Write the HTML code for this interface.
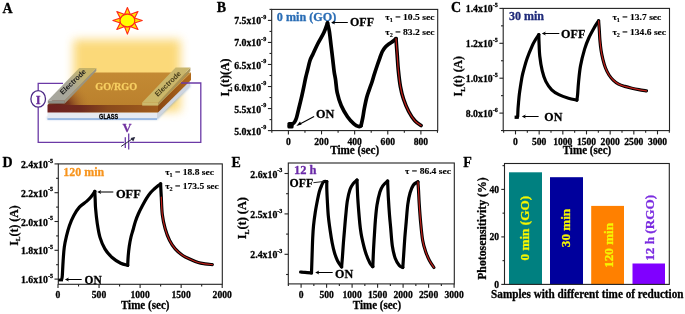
<!DOCTYPE html>
<html><head><meta charset="utf-8"><style>
html,body{margin:0;padding:0;background:#fff;}
body{width:685px;height:314px;overflow:hidden;}
svg{display:block;will-change:transform;}
text{stroke-width:0.28px;stroke-linejoin:round;}
</style></head><body>
<svg width="685" height="314" viewBox="0 0 685 314">
<defs>
<filter id="glow" x="-30%" y="-30%" width="160%" height="160%"><feGaussianBlur stdDeviation="5"/></filter>
<filter id="soft" x="-10%" y="-50%" width="120%" height="200%"><feGaussianBlur stdDeviation="0.8"/></filter>
<linearGradient id="filmFront" x1="0" y1="0" x2="1" y2="0">
 <stop offset="0" stop-color="#6e2020"/><stop offset="0.3" stop-color="#6f2a1e"/><stop offset="0.55" stop-color="#8a4a1c"/><stop offset="1" stop-color="#a05c1c"/>
</linearGradient>
<linearGradient id="filmSide" x1="0" y1="0" x2="1" y2="0">
 <stop offset="0" stop-color="#8a4612"/><stop offset="1" stop-color="#b06a1c"/>
</linearGradient>
<linearGradient id="filmTop" x1="0" y1="0" x2="0" y2="1">
 <stop offset="0" stop-color="#c38a34"/><stop offset="1" stop-color="#bb812d"/>
</linearGradient>
<radialGradient id="filmShade" gradientUnits="userSpaceOnUse" cx="58" cy="108" r="34" gradientTransform="translate(58,108) scale(1,0.9) rotate(-30) translate(-58,-108)">
 <stop offset="0" stop-color="#5a1a18" stop-opacity="1"/><stop offset="0.35" stop-color="#6e2a1a" stop-opacity="0.85"/><stop offset="0.7" stop-color="#9a5a26" stop-opacity="0.35"/><stop offset="1" stop-color="#bf8530" stop-opacity="0"/>
</radialGradient>
<linearGradient id="filmTop2" x1="0" y1="0" x2="0" y2="1">
 <stop offset="0" stop-color="#c88c30" stop-opacity="0.6"/><stop offset="1" stop-color="#c88c30" stop-opacity="0"/>
</linearGradient>
<linearGradient id="elL" gradientUnits="userSpaceOnUse" x1="56" y1="100" x2="88" y2="68">
 <stop offset="0" stop-color="#a6a69e"/><stop offset="0.45" stop-color="#a9a798"/><stop offset="0.8" stop-color="#c2b372"/><stop offset="1" stop-color="#c8b466"/>
</linearGradient>
<linearGradient id="elR" x1="0" y1="1" x2="1" y2="0">
 <stop offset="0" stop-color="#cbb767"/><stop offset="1" stop-color="#c9b66e"/>
</linearGradient>
</defs>
<rect width="685" height="314" fill="#fff"/>
<text transform="translate(2.6,12.6) scale(1,1.1)" x="0" y="0" font-family='"Liberation Serif", serif' font-size="14" font-weight="bold" fill="#000" stroke="#000">A</text><rect x="73.5" y="39.5" width="107" height="72" fill="#fbd66e" opacity="0.92" filter="url(#glow)"/><path d="M47.5,119.3 L157,119.3 L190,86.5 L190,84 L157,117 L47.5,117 Z" fill="#7fa6d8" opacity="0.9" filter="url(#soft)"/><polygon points="47.5,112.6 157,112.6 157,118.6 47.5,118.6" fill="#e6eaf2"/><rect x="47.5" y="118.3" width="109.5" height="1.5" fill="#8cb0e0"/><polygon points="157,112.6 190,80 190,86 157,118.6" fill="#cfd5df"/><text x="108.6" y="118.6" font-family='"Liberation Sans", sans-serif' font-size="6.6" font-weight="bold" fill="#000" stroke="#000" text-anchor="middle" textLength="19" lengthAdjust="spacingAndGlyphs" >GLASS</text><polygon points="47.5,105 158,105 158,112.4 47.5,112.4" fill="url(#filmFront)"/><polygon points="158,105 191,72.5 191,80 158,112.4" fill="url(#filmSide)"/><polygon points="47.5,105 80,72.5 191,72.5 158,105" fill="url(#filmTop)"/><polygon points="47.5,105 80,72.5 191,72.5 158,105" fill="url(#filmShade)"/><text x="116.2" y="90.3" font-family='"Liberation Serif", serif' font-size="11.2" font-weight="bold" fill="#f7cf62" stroke="#f7cf62" text-anchor="middle" textLength="42" lengthAdjust="spacingAndGlyphs" >GO/RGO</text><polygon points="47.8,100.4 64.8,100.4 64.8,103.6 47.8,103.6" fill="#8f8f86"/><polygon points="64.8,100.4 96.3,67.9 96.3,71.1 64.8,103.6" fill="#9a9480"/><polygon points="47.8,100.4 79.3,67.9 96.3,67.9 64.8,100.4" fill="url(#elL)"/><polygon points="142.2,102.4 158.2,102.4 158.2,105.6 142.2,105.6" fill="#cdb96c"/><polygon points="158.2,102.4 190.4,67.6 190.4,71.0 158.2,105.6" fill="#a89458"/><polygon points="142.2,102.4 175.6,67.6 190.4,67.6 158.2,102.4" fill="url(#elR)"/><text transform="translate(74.6,83.6) rotate(-44)" font-family='"Liberation Sans", sans-serif' font-size="7.4" font-weight="bold" fill="#1e1e1e" text-anchor="middle" textLength="33" lengthAdjust="spacingAndGlyphs">Electrode</text><text transform="translate(169.6,85.6) rotate(-44)" font-family='"Liberation Sans", sans-serif' font-size="7.4" font-weight="bold" fill="#4a3f1c" text-anchor="middle" textLength="33" lengthAdjust="spacingAndGlyphs">Electrode</text><polyline points="63,83.3 38.2,83.3 38.2,142.3 200.8,142.3 200.8,83 181,83" fill="none" stroke="#6b3aa6" stroke-width="1.3"/><ellipse cx="38.2" cy="98.9" rx="7.3" ry="8.3" fill="#fff" stroke="#4d2a86" stroke-width="1.3"/><text x="38.3" y="103.6" font-family='"Liberation Serif", serif' font-size="12.5" font-weight="bold" fill="#6a2a9c" stroke="#6a2a9c" text-anchor="middle" >I</text><rect x="124" y="136" width="6" height="13" fill="#fff"/><line x1="125.3" y1="137.2" x2="125.3" y2="148.0" stroke="#6b3aa6" stroke-width="1.3"/><line x1="128.7" y1="133.4" x2="128.7" y2="149.5" stroke="#6b3aa6" stroke-width="1.3"/><line x1="121.2" y1="146.4" x2="133.6" y2="138.0" stroke="#2a2a40" stroke-width="1.0"/><path d="M135.2,137 L130.6,138.0 L133.2,141.6 Z" fill="#2a2a40"/><text x="127.0" y="131.8" font-family='"Liberation Serif", serif' font-size="12.5" font-weight="bold" fill="#7030a0" stroke="#7030a0" text-anchor="middle" >V</text><polygon points="127.40,7.50 124.55,14.20 130.25,14.20" fill="#ffe600" stroke="#ff2a1a" stroke-width="1.1" stroke-linejoin="round"/><polygon points="138.00,11.50 130.68,14.36 134.53,18.12" fill="#ffe600" stroke="#ff2a1a" stroke-width="1.1" stroke-linejoin="round"/><polygon points="142.30,20.50 134.46,17.95 134.46,23.05" fill="#ffe600" stroke="#ff2a1a" stroke-width="1.1" stroke-linejoin="round"/><polygon points="138.00,29.50 134.53,22.88 130.68,26.64" fill="#ffe600" stroke="#ff2a1a" stroke-width="1.1" stroke-linejoin="round"/><polygon points="127.40,34.10 130.25,26.80 124.55,26.80" fill="#ffe600" stroke="#ff2a1a" stroke-width="1.1" stroke-linejoin="round"/><polygon points="116.80,29.50 124.12,26.64 120.27,22.88" fill="#ffe600" stroke="#ff2a1a" stroke-width="1.1" stroke-linejoin="round"/><polygon points="112.90,20.50 120.34,23.05 120.34,17.95" fill="#ffe600" stroke="#ff2a1a" stroke-width="1.1" stroke-linejoin="round"/><polygon points="116.80,11.50 120.27,18.12 124.12,14.36" fill="#ffe600" stroke="#ff2a1a" stroke-width="1.1" stroke-linejoin="round"/><ellipse cx="127.4" cy="20.5" rx="7.4" ry="6.4" fill="#ffff00" stroke="#ff2a1a" stroke-width="1.1"/><text transform="translate(216.8,11.7) scale(1,1.1)" x="0" y="0" font-family='"Liberation Serif", serif' font-size="14" font-weight="bold" fill="#000" stroke="#000">B</text><rect x="271.7" y="9.4" width="166.0" height="121.19999999999999" fill="none" stroke="#222" stroke-width="1.1"/><line x1="288.4" y1="130.6" x2="288.4" y2="134.4" stroke="#222" stroke-width="1.1"/><line x1="321.525" y1="130.6" x2="321.525" y2="134.4" stroke="#222" stroke-width="1.1"/><line x1="354.65" y1="130.6" x2="354.65" y2="134.4" stroke="#222" stroke-width="1.1"/><line x1="387.775" y1="130.6" x2="387.775" y2="134.4" stroke="#222" stroke-width="1.1"/><line x1="420.9" y1="130.6" x2="420.9" y2="134.4" stroke="#222" stroke-width="1.1"/><line x1="271.8375" y1="130.6" x2="271.8375" y2="132.79999999999998" stroke="#222" stroke-width="1.1"/><line x1="304.9625" y1="130.6" x2="304.9625" y2="132.79999999999998" stroke="#222" stroke-width="1.1"/><line x1="338.0875" y1="130.6" x2="338.0875" y2="132.79999999999998" stroke="#222" stroke-width="1.1"/><line x1="371.2125" y1="130.6" x2="371.2125" y2="132.79999999999998" stroke="#222" stroke-width="1.1"/><line x1="404.3375" y1="130.6" x2="404.3375" y2="132.79999999999998" stroke="#222" stroke-width="1.1"/><line x1="437.4625" y1="130.6" x2="437.4625" y2="132.79999999999998" stroke="#222" stroke-width="1.1"/><line x1="267.9" y1="130.6" x2="271.7" y2="130.6" stroke="#222" stroke-width="1.1"/><line x1="267.9" y1="108.56" x2="271.7" y2="108.56" stroke="#222" stroke-width="1.1"/><line x1="267.9" y1="86.52" x2="271.7" y2="86.52" stroke="#222" stroke-width="1.1"/><line x1="267.9" y1="64.47999999999999" x2="271.7" y2="64.47999999999999" stroke="#222" stroke-width="1.1"/><line x1="267.9" y1="42.44" x2="271.7" y2="42.44" stroke="#222" stroke-width="1.1"/><line x1="267.9" y1="20.400000000000006" x2="271.7" y2="20.400000000000006" stroke="#222" stroke-width="1.1"/><line x1="269.5" y1="119.58" x2="271.7" y2="119.58" stroke="#222" stroke-width="1.1"/><line x1="269.5" y1="97.53999999999999" x2="271.7" y2="97.53999999999999" stroke="#222" stroke-width="1.1"/><line x1="269.5" y1="75.5" x2="271.7" y2="75.5" stroke="#222" stroke-width="1.1"/><line x1="269.5" y1="53.459999999999994" x2="271.7" y2="53.459999999999994" stroke="#222" stroke-width="1.1"/><line x1="269.5" y1="31.42" x2="271.7" y2="31.42" stroke="#222" stroke-width="1.1"/><line x1="269.5" y1="9.379999999999995" x2="271.7" y2="9.379999999999995" stroke="#222" stroke-width="1.1"/><text x="288.4" y="144.8" font-family='"Liberation Serif", serif' font-size="9.6" font-weight="bold" fill="#000" stroke="#000" text-anchor="middle" >0</text><text x="321.5" y="144.8" font-family='"Liberation Serif", serif' font-size="9.6" font-weight="bold" fill="#000" stroke="#000" text-anchor="middle" >200</text><text x="354.6" y="144.8" font-family='"Liberation Serif", serif' font-size="9.6" font-weight="bold" fill="#000" stroke="#000" text-anchor="middle" >400</text><text x="387.8" y="144.8" font-family='"Liberation Serif", serif' font-size="9.6" font-weight="bold" fill="#000" stroke="#000" text-anchor="middle" >600</text><text x="420.9" y="144.8" font-family='"Liberation Serif", serif' font-size="9.6" font-weight="bold" fill="#000" stroke="#000" text-anchor="middle" >800</text><text x="266.2" y="134.6" font-family='"Liberation Serif", serif' font-size="9.8" font-weight="bold" stroke="#000" text-anchor="end">5.0x10<tspan dy="-5.3" font-size="6.08">-9</tspan></text><text x="266.2" y="112.6" font-family='"Liberation Serif", serif' font-size="9.8" font-weight="bold" stroke="#000" text-anchor="end">5.5x10<tspan dy="-5.3" font-size="6.08">-9</tspan></text><text x="266.2" y="90.5" font-family='"Liberation Serif", serif' font-size="9.8" font-weight="bold" stroke="#000" text-anchor="end">6.0x10<tspan dy="-5.3" font-size="6.08">-9</tspan></text><text x="266.2" y="68.5" font-family='"Liberation Serif", serif' font-size="9.8" font-weight="bold" stroke="#000" text-anchor="end">6.5x10<tspan dy="-5.3" font-size="6.08">-9</tspan></text><text x="266.2" y="46.4" font-family='"Liberation Serif", serif' font-size="9.8" font-weight="bold" stroke="#000" text-anchor="end">7.0x10<tspan dy="-5.3" font-size="6.08">-9</tspan></text><text x="266.2" y="24.4" font-family='"Liberation Serif", serif' font-size="9.8" font-weight="bold" stroke="#000" text-anchor="end">7.5x10<tspan dy="-5.3" font-size="6.08">-9</tspan></text><text x="354.7" y="154.0" font-family='"Liberation Serif", serif' font-size="11.6" font-weight="bold" fill="#000" stroke="#000" text-anchor="middle" textLength="49" lengthAdjust="spacingAndGlyphs" >Time (sec)</text><text transform="translate(229.3,77.4) rotate(-90)" x="0" y="0" font-family='"Liberation Serif", serif' font-size="11.8" font-weight="bold" stroke="#000" text-anchor="middle" textLength="38" lengthAdjust="spacingAndGlyphs">I<tspan font-size="7.1" dy="2.5">L</tspan><tspan dy="-2.5">(t)(A)</tspan></text><text x="276.8" y="20.8" font-family='"Liberation Serif", serif' font-size="12" font-weight="bold" fill="#2a6db5" stroke="#2a6db5" text-anchor="start" textLength="59.5" lengthAdjust="spacingAndGlyphs" >0 min (GO)</text><text x="385.3" y="19.8" font-family='"Liberation Serif", serif' font-size="9.1" font-weight="bold" stroke="#000" style="stroke-width:0.14px" textLength="49.2" lengthAdjust="spacingAndGlyphs">τ<tspan font-size="5.9" dy="2.2">1</tspan><tspan dy="-2.2"> = 10.5 sec</tspan></text><text x="385.3" y="34.5" font-family='"Liberation Serif", serif' font-size="9.1" font-weight="bold" stroke="#000" style="stroke-width:0.14px" textLength="49.2" lengthAdjust="spacingAndGlyphs">τ<tspan font-size="5.9" dy="2.2">2</tspan><tspan dy="-2.2"> = 83.2 sec</tspan></text><path d="M289.50,126.00 C289.87,125.75 290.85,125.17 291.70,124.50 C292.55,123.83 293.80,123.12 294.60,122.00 C295.40,120.88 295.87,119.78 296.50,117.80 C297.13,115.82 297.62,113.28 298.40,110.10 C299.18,106.92 300.25,102.83 301.20,98.70 C302.15,94.57 303.37,88.75 304.10,85.30 C304.83,81.85 305.02,80.55 305.60,78.00 C306.18,75.45 306.87,72.92 307.60,70.00 C308.33,67.08 309.10,63.17 310.00,60.50 C310.90,57.83 311.68,56.83 313.00,54.00 C314.32,51.17 316.08,47.08 317.90,43.50 C319.72,39.92 322.30,35.92 323.90,32.50 C325.50,29.08 326.90,24.58 327.50,23.00" fill="none" stroke="#000" stroke-width="3.7" stroke-linejoin="round" stroke-linecap="round" /><path d="M327.50,23.00 C327.80,24.33 328.72,27.33 329.30,31.00 C329.88,34.67 330.42,40.17 331.00,45.00 C331.58,49.83 332.27,55.50 332.80,60.00 C333.33,64.50 333.73,68.67 334.20,72.00 C334.67,75.33 335.10,76.55 335.60,80.00 C336.10,83.45 336.27,88.45 337.20,92.70 C338.13,96.95 339.48,101.50 341.20,105.50 C342.92,109.50 345.38,113.65 347.50,116.70 C349.62,119.75 352.03,122.17 353.90,123.80 C355.77,125.43 357.52,126.17 358.70,126.50 C359.88,126.83 360.62,125.92 361.00,125.80" fill="none" stroke="#000" stroke-width="3.7" stroke-linejoin="round" stroke-linecap="round" /><path d="M361.00,125.80 C361.28,124.53 362.15,121.05 362.70,118.20 C363.25,115.35 363.63,112.15 364.30,108.70 C364.97,105.25 365.87,100.68 366.70,97.50 C367.53,94.32 368.42,92.18 369.30,89.60 C370.18,87.02 371.15,84.60 372.00,82.00 C372.85,79.40 373.53,76.75 374.40,74.00 C375.27,71.25 376.30,68.15 377.20,65.50 C378.10,62.85 378.97,60.40 379.80,58.10 C380.63,55.80 381.27,53.57 382.20,51.70 C383.13,49.83 384.22,48.22 385.40,46.90 C386.58,45.58 387.98,44.78 389.30,43.80 C390.62,42.82 392.18,41.87 393.30,41.00 C394.42,40.13 395.55,39.00 396.00,38.60" fill="none" stroke="#000" stroke-width="3.7" stroke-linejoin="round" stroke-linecap="round" /><path d="M396.00,38.60 C396.20,41.33 396.82,49.77 397.20,55.00 C397.58,60.23 397.77,64.73 398.30,70.00 C398.83,75.27 399.53,81.77 400.40,86.60 C401.27,91.43 402.12,94.85 403.50,99.00 C404.88,103.15 406.80,107.87 408.70,111.50 C410.60,115.13 412.83,118.47 414.90,120.80 C416.97,123.13 420.07,124.72 421.10,125.50" fill="none" stroke="#000" stroke-width="3.7" stroke-linejoin="round" stroke-linecap="round" /><rect x="287.4" y="122.0" width="6.2" height="6.6" rx="1.6" fill="#000"/><path d="M396.00,38.60 C396.20,41.33 396.82,49.77 397.20,55.00 C397.58,60.23 397.77,64.73 398.30,70.00 C398.83,75.27 399.53,81.77 400.40,86.60 C401.27,91.43 402.12,94.85 403.50,99.00 C404.88,103.15 406.80,107.87 408.70,111.50 C410.60,115.13 412.83,118.47 414.90,120.80 C416.97,123.13 420.07,124.72 421.10,125.50" fill="none" stroke="#c0201a" stroke-width="1.2" stroke-linejoin="round" stroke-linecap="round" /><line x1="333.90000000000003" y1="22.5" x2="347.8" y2="22.5" stroke="#000" stroke-width="1.05"/><path d="M331.1,22.5 L335.1,20.6 L334.1,22.5 L335.1,24.4 Z" fill="#000"/><text x="350.0" y="25.8" font-family='"Liberation Serif", serif' font-size="12" font-weight="bold" fill="#000" stroke="#000" text-anchor="start" textLength="24" lengthAdjust="spacingAndGlyphs" >OFF</text><line x1="299.0" y1="124.4" x2="314.1" y2="116.4" stroke="#000" stroke-width="1.1"/><path d="M296.4,125.9 L300.0,121.6 L301.6,124.6 Z" fill="#000"/><text x="315.9" y="117.6" font-family='"Liberation Serif", serif' font-size="12" font-weight="bold" fill="#000" stroke="#000" text-anchor="start" textLength="18.3" lengthAdjust="spacingAndGlyphs" >ON</text><text transform="translate(451.0,12.3) scale(1,1.1)" x="0" y="0" font-family='"Liberation Serif", serif' font-size="14" font-weight="bold" fill="#000" stroke="#000">C</text><rect x="503.2" y="8.4" width="166.3" height="122.19999999999999" fill="none" stroke="#222" stroke-width="1.1"/><line x1="515.5" y1="130.6" x2="515.5" y2="134.4" stroke="#222" stroke-width="1.1"/><line x1="539.1666666666666" y1="130.6" x2="539.1666666666666" y2="134.4" stroke="#222" stroke-width="1.1"/><line x1="562.8333333333334" y1="130.6" x2="562.8333333333334" y2="134.4" stroke="#222" stroke-width="1.1"/><line x1="586.5" y1="130.6" x2="586.5" y2="134.4" stroke="#222" stroke-width="1.1"/><line x1="610.1666666666666" y1="130.6" x2="610.1666666666666" y2="134.4" stroke="#222" stroke-width="1.1"/><line x1="633.8333333333334" y1="130.6" x2="633.8333333333334" y2="134.4" stroke="#222" stroke-width="1.1"/><line x1="657.5" y1="130.6" x2="657.5" y2="134.4" stroke="#222" stroke-width="1.1"/><line x1="503.6666666666667" y1="130.6" x2="503.6666666666667" y2="132.79999999999998" stroke="#222" stroke-width="1.1"/><line x1="527.3333333333334" y1="130.6" x2="527.3333333333334" y2="132.79999999999998" stroke="#222" stroke-width="1.1"/><line x1="551.0" y1="130.6" x2="551.0" y2="132.79999999999998" stroke="#222" stroke-width="1.1"/><line x1="574.6666666666666" y1="130.6" x2="574.6666666666666" y2="132.79999999999998" stroke="#222" stroke-width="1.1"/><line x1="598.3333333333334" y1="130.6" x2="598.3333333333334" y2="132.79999999999998" stroke="#222" stroke-width="1.1"/><line x1="622.0" y1="130.6" x2="622.0" y2="132.79999999999998" stroke="#222" stroke-width="1.1"/><line x1="645.6666666666666" y1="130.6" x2="645.6666666666666" y2="132.79999999999998" stroke="#222" stroke-width="1.1"/><line x1="669.3333333333333" y1="130.6" x2="669.3333333333333" y2="132.79999999999998" stroke="#222" stroke-width="1.1"/><line x1="499.4" y1="113.1" x2="503.2" y2="113.1" stroke="#222" stroke-width="1.1"/><line x1="499.4" y1="78.20000000000002" x2="503.2" y2="78.20000000000002" stroke="#222" stroke-width="1.1"/><line x1="499.4" y1="43.300000000000026" x2="503.2" y2="43.300000000000026" stroke="#222" stroke-width="1.1"/><line x1="499.4" y1="8.400000000000034" x2="503.2" y2="8.400000000000034" stroke="#222" stroke-width="1.1"/><line x1="501.0" y1="130.55" x2="503.2" y2="130.55" stroke="#222" stroke-width="1.1"/><line x1="501.0" y1="95.65" x2="503.2" y2="95.65" stroke="#222" stroke-width="1.1"/><line x1="501.0" y1="60.74999999999999" x2="503.2" y2="60.74999999999999" stroke="#222" stroke-width="1.1"/><line x1="501.0" y1="25.85000000000001" x2="503.2" y2="25.85000000000001" stroke="#222" stroke-width="1.1"/><text x="515.5" y="144.8" font-family='"Liberation Serif", serif' font-size="9.6" font-weight="bold" fill="#000" stroke="#000" text-anchor="middle" >0</text><text x="539.2" y="144.8" font-family='"Liberation Serif", serif' font-size="9.6" font-weight="bold" fill="#000" stroke="#000" text-anchor="middle" >500</text><text x="562.8" y="144.8" font-family='"Liberation Serif", serif' font-size="9.6" font-weight="bold" fill="#000" stroke="#000" text-anchor="middle" >1000</text><text x="586.5" y="144.8" font-family='"Liberation Serif", serif' font-size="9.6" font-weight="bold" fill="#000" stroke="#000" text-anchor="middle" >1500</text><text x="610.2" y="144.8" font-family='"Liberation Serif", serif' font-size="9.6" font-weight="bold" fill="#000" stroke="#000" text-anchor="middle" >2000</text><text x="633.8" y="144.8" font-family='"Liberation Serif", serif' font-size="9.6" font-weight="bold" fill="#000" stroke="#000" text-anchor="middle" >2500</text><text x="657.5" y="144.8" font-family='"Liberation Serif", serif' font-size="9.6" font-weight="bold" fill="#000" stroke="#000" text-anchor="middle" >3000</text><text x="497.8" y="12.4" font-family='"Liberation Serif", serif' font-size="9.8" font-weight="bold" stroke="#000" text-anchor="end">1.4x10<tspan dy="-5.3" font-size="6.08">-5</tspan></text><text x="497.8" y="47.3" font-family='"Liberation Serif", serif' font-size="9.8" font-weight="bold" stroke="#000" text-anchor="end">1.2x10<tspan dy="-5.3" font-size="6.08">-5</tspan></text><text x="497.8" y="82.2" font-family='"Liberation Serif", serif' font-size="9.8" font-weight="bold" stroke="#000" text-anchor="end">1.0x10<tspan dy="-5.3" font-size="6.08">-5</tspan></text><text x="497.8" y="117.1" font-family='"Liberation Serif", serif' font-size="9.8" font-weight="bold" stroke="#000" text-anchor="end">8.0x10<tspan dy="-5.3" font-size="6.08">-6</tspan></text><text x="587.0" y="154.4" font-family='"Liberation Serif", serif' font-size="11.6" font-weight="bold" fill="#000" stroke="#000" text-anchor="middle" textLength="48.6" lengthAdjust="spacingAndGlyphs" >Time (sec)</text><text transform="translate(462.4,76.2) rotate(-90)" x="0" y="0" font-family='"Liberation Serif", serif' font-size="11.6" font-weight="bold" stroke="#000" text-anchor="middle" textLength="40.5" lengthAdjust="spacingAndGlyphs">I<tspan font-size="7.0" dy="2.5">L</tspan><tspan dy="-2.5">(t) (A)</tspan></text><text x="508.9" y="19.7" font-family='"Liberation Serif", serif' font-size="12" font-weight="bold" fill="#1f2a7a" stroke="#1f2a7a" text-anchor="start" textLength="35.1" lengthAdjust="spacingAndGlyphs" >30 min</text><text x="612.4" y="20.2" font-family='"Liberation Serif", serif' font-size="9.1" font-weight="bold" stroke="#000" style="stroke-width:0.14px" textLength="48.9" lengthAdjust="spacingAndGlyphs">τ<tspan font-size="5.9" dy="2.2">1</tspan><tspan dy="-2.2"> = 13.7 sec</tspan></text><text x="612.4" y="34.5" font-family='"Liberation Serif", serif' font-size="9.1" font-weight="bold" stroke="#000" style="stroke-width:0.14px" textLength="53.7" lengthAdjust="spacingAndGlyphs">τ<tspan font-size="5.9" dy="2.2">2</tspan><tspan dy="-2.2"> = 134.6 sec</tspan></text><path d="M517.70,116.50 C517.75,115.25 517.85,111.47 518.00,109.00 C518.15,106.53 518.38,104.12 518.60,101.70 C518.82,99.28 519.02,96.88 519.30,94.50 C519.58,92.12 519.93,89.82 520.30,87.40 C520.67,84.98 521.07,82.40 521.50,80.00 C521.93,77.60 521.98,76.55 522.90,73.00 C523.82,69.45 525.45,63.23 527.00,58.70 C528.55,54.17 530.80,48.95 532.20,45.80 C533.60,42.65 534.30,41.67 535.40,39.80 C536.50,37.93 538.23,35.47 538.80,34.60" fill="none" stroke="#000" stroke-width="3.2" stroke-linejoin="round" stroke-linecap="round" /><path d="M538.80,34.60 C538.83,35.83 538.83,38.38 539.00,42.00 C539.17,45.62 539.27,51.52 539.80,56.30 C540.33,61.08 541.20,66.52 542.20,70.70 C543.20,74.88 544.22,78.22 545.80,81.40 C547.38,84.58 549.52,87.60 551.70,89.80 C553.88,92.00 556.10,93.20 558.90,94.60 C561.70,96.00 565.50,97.28 568.50,98.20 C571.50,99.12 575.50,99.78 576.90,100.10" fill="none" stroke="#000" stroke-width="3.2" stroke-linejoin="round" stroke-linecap="round" /><path d="M576.90,100.10 C577.02,99.18 577.33,97.52 577.60,94.60 C577.87,91.68 578.02,87.38 578.50,82.60 C578.98,77.82 579.48,71.48 580.50,65.90 C581.52,60.32 583.22,53.75 584.60,49.10 C585.98,44.45 587.17,41.62 588.80,38.00 C590.43,34.38 592.77,30.27 594.40,27.40 C596.03,24.53 597.90,21.90 598.60,20.80" fill="none" stroke="#000" stroke-width="3.2" stroke-linejoin="round" stroke-linecap="round" /><path d="M598.60,20.80 C598.72,22.33 599.08,26.80 599.30,30.00 C599.52,33.20 599.60,36.58 599.90,40.00 C600.20,43.42 600.60,47.28 601.10,50.50 C601.60,53.72 602.17,56.38 602.90,59.30 C603.63,62.22 604.48,65.38 605.50,68.00 C606.52,70.62 607.68,72.95 609.00,75.00 C610.32,77.05 611.80,78.78 613.40,80.30 C615.00,81.82 616.70,83.08 618.60,84.10 C620.50,85.12 622.60,85.72 624.80,86.40 C627.00,87.08 629.47,87.67 631.80,88.20 C634.13,88.73 636.35,89.17 638.80,89.60 C641.25,90.03 645.22,90.60 646.50,90.80" fill="none" stroke="#000" stroke-width="3.2" stroke-linejoin="round" stroke-linecap="round" /><rect x="514.6" y="115.6" width="4.2" height="3.3" fill="#000"/><path d="M598.60,20.80 C598.72,22.33 599.08,26.80 599.30,30.00 C599.52,33.20 599.60,36.58 599.90,40.00 C600.20,43.42 600.60,47.28 601.10,50.50 C601.60,53.72 602.17,56.38 602.90,59.30 C603.63,62.22 604.48,65.38 605.50,68.00 C606.52,70.62 607.68,72.95 609.00,75.00 C610.32,77.05 611.80,78.78 613.40,80.30 C615.00,81.82 616.70,83.08 618.60,84.10 C620.50,85.12 622.60,85.72 624.80,86.40 C627.00,87.08 629.47,87.67 631.80,88.20 C634.13,88.73 636.35,89.17 638.80,89.60 C641.25,90.03 645.22,90.60 646.50,90.80" fill="none" stroke="#c0201a" stroke-width="1.2" stroke-linejoin="round" stroke-linecap="round" /><line x1="544.5999999999999" y1="33.5" x2="559.3" y2="33.5" stroke="#000" stroke-width="1.05"/><path d="M541.8,33.5 L545.8,31.6 L544.8,33.5 L545.8,35.4 Z" fill="#000"/><text x="561.1" y="37.8" font-family='"Liberation Serif", serif' font-size="12" font-weight="bold" fill="#000" stroke="#000" text-anchor="start" textLength="24.3" lengthAdjust="spacingAndGlyphs" >OFF</text><line x1="524.5999999999999" y1="116.5" x2="538.6" y2="116.5" stroke="#000" stroke-width="1.05"/><path d="M521.8,116.5 L525.8,114.6 L524.8,116.5 L525.8,118.4 Z" fill="#000"/><text x="544.3" y="121.2" font-family='"Liberation Serif", serif' font-size="12" font-weight="bold" fill="#000" stroke="#000" text-anchor="start" textLength="18.0" lengthAdjust="spacingAndGlyphs" >ON</text><text transform="translate(2.4,167.3) scale(1,1.1)" x="0" y="0" font-family='"Liberation Serif", serif' font-size="14" font-weight="bold" fill="#000" stroke="#000">D</text><rect x="58.3" y="163.9" width="164.0" height="120.4" fill="none" stroke="#222" stroke-width="1.1"/><line x1="58.0" y1="284.3" x2="58.0" y2="288.1" stroke="#222" stroke-width="1.1"/><line x1="99.05" y1="284.3" x2="99.05" y2="288.1" stroke="#222" stroke-width="1.1"/><line x1="140.1" y1="284.3" x2="140.1" y2="288.1" stroke="#222" stroke-width="1.1"/><line x1="181.14999999999998" y1="284.3" x2="181.14999999999998" y2="288.1" stroke="#222" stroke-width="1.1"/><line x1="222.2" y1="284.3" x2="222.2" y2="288.1" stroke="#222" stroke-width="1.1"/><line x1="78.525" y1="284.3" x2="78.525" y2="286.5" stroke="#222" stroke-width="1.1"/><line x1="119.57499999999999" y1="284.3" x2="119.57499999999999" y2="286.5" stroke="#222" stroke-width="1.1"/><line x1="160.625" y1="284.3" x2="160.625" y2="286.5" stroke="#222" stroke-width="1.1"/><line x1="201.67499999999998" y1="284.3" x2="201.67499999999998" y2="286.5" stroke="#222" stroke-width="1.1"/><line x1="54.5" y1="279.09999999999997" x2="58.3" y2="279.09999999999997" stroke="#222" stroke-width="1.1"/><line x1="54.5" y1="250.29999999999998" x2="58.3" y2="250.29999999999998" stroke="#222" stroke-width="1.1"/><line x1="54.5" y1="221.5" x2="58.3" y2="221.5" stroke="#222" stroke-width="1.1"/><line x1="54.5" y1="192.69999999999996" x2="58.3" y2="192.69999999999996" stroke="#222" stroke-width="1.1"/><line x1="54.5" y1="163.9" x2="58.3" y2="163.9" stroke="#222" stroke-width="1.1"/><line x1="56.099999999999994" y1="264.7" x2="58.3" y2="264.7" stroke="#222" stroke-width="1.1"/><line x1="56.099999999999994" y1="235.9" x2="58.3" y2="235.9" stroke="#222" stroke-width="1.1"/><line x1="56.099999999999994" y1="207.09999999999997" x2="58.3" y2="207.09999999999997" stroke="#222" stroke-width="1.1"/><line x1="56.099999999999994" y1="178.3" x2="58.3" y2="178.3" stroke="#222" stroke-width="1.1"/><text x="58.0" y="298.3" font-family='"Liberation Serif", serif' font-size="9.6" font-weight="bold" fill="#000" stroke="#000" text-anchor="middle" >0</text><text x="99.0" y="298.3" font-family='"Liberation Serif", serif' font-size="9.6" font-weight="bold" fill="#000" stroke="#000" text-anchor="middle" >500</text><text x="140.1" y="298.3" font-family='"Liberation Serif", serif' font-size="9.6" font-weight="bold" fill="#000" stroke="#000" text-anchor="middle" >1000</text><text x="181.1" y="298.3" font-family='"Liberation Serif", serif' font-size="9.6" font-weight="bold" fill="#000" stroke="#000" text-anchor="middle" >1500</text><text x="222.2" y="298.3" font-family='"Liberation Serif", serif' font-size="9.6" font-weight="bold" fill="#000" stroke="#000" text-anchor="middle" >2000</text><text x="53.0" y="283.1" font-family='"Liberation Serif", serif' font-size="9.8" font-weight="bold" stroke="#000" text-anchor="end">1.6x10<tspan dy="-5.3" font-size="6.08">-5</tspan></text><text x="53.0" y="254.3" font-family='"Liberation Serif", serif' font-size="9.8" font-weight="bold" stroke="#000" text-anchor="end">1.8x10<tspan dy="-5.3" font-size="6.08">-5</tspan></text><text x="53.0" y="225.5" font-family='"Liberation Serif", serif' font-size="9.8" font-weight="bold" stroke="#000" text-anchor="end">2.0x10<tspan dy="-5.3" font-size="6.08">-5</tspan></text><text x="53.0" y="196.7" font-family='"Liberation Serif", serif' font-size="9.8" font-weight="bold" stroke="#000" text-anchor="end">2.2x10<tspan dy="-5.3" font-size="6.08">-5</tspan></text><text x="53.0" y="167.9" font-family='"Liberation Serif", serif' font-size="9.8" font-weight="bold" stroke="#000" text-anchor="end">2.4x10<tspan dy="-5.3" font-size="6.08">-5</tspan></text><text x="145.2" y="308.6" font-family='"Liberation Serif", serif' font-size="11.6" font-weight="bold" fill="#000" stroke="#000" text-anchor="middle" textLength="48.6" lengthAdjust="spacingAndGlyphs" >Time (sec)</text><text transform="translate(17.9,225.5) rotate(-90)" x="0" y="0" font-family='"Liberation Serif", serif' font-size="11.6" font-weight="bold" stroke="#000" text-anchor="middle" textLength="40.5" lengthAdjust="spacingAndGlyphs">I<tspan font-size="7.0" dy="2.5">L</tspan><tspan dy="-2.5">(t) (A)</tspan></text><text x="63.3" y="175.7" font-family='"Liberation Serif", serif' font-size="12" font-weight="bold" fill="#f7941d" stroke="#f7941d" text-anchor="start" textLength="40.9" lengthAdjust="spacingAndGlyphs" >120 min</text><text x="165.2" y="174.7" font-family='"Liberation Serif", serif' font-size="9.1" font-weight="bold" stroke="#000" style="stroke-width:0.14px" textLength="48.7" lengthAdjust="spacingAndGlyphs">τ<tspan font-size="5.9" dy="2.2">1</tspan><tspan dy="-2.2"> = 18.8 sec</tspan></text><text x="165.2" y="189.1" font-family='"Liberation Serif", serif' font-size="9.1" font-weight="bold" stroke="#000" style="stroke-width:0.14px" textLength="53.6" lengthAdjust="spacingAndGlyphs">τ<tspan font-size="5.9" dy="2.2">2</tspan><tspan dy="-2.2"> = 173.5 sec</tspan></text><path d="M61.80,279.00 C61.88,278.45 62.08,278.63 62.30,275.70 C62.52,272.77 62.77,266.17 63.10,261.40 C63.43,256.63 63.72,251.38 64.30,247.10 C64.88,242.82 65.75,239.27 66.60,235.70 C67.45,232.13 68.22,229.03 69.40,225.70 C70.58,222.37 72.03,218.80 73.70,215.70 C75.37,212.60 77.25,209.48 79.40,207.10 C81.55,204.72 84.68,203.07 86.60,201.40 C88.52,199.73 89.53,198.77 90.90,197.10 C92.27,195.43 94.15,192.35 94.80,191.40" fill="none" stroke="#000" stroke-width="3.2" stroke-linejoin="round" stroke-linecap="round" /><path d="M94.80,191.40 C94.87,192.83 95.07,197.12 95.20,200.00 C95.33,202.88 95.27,204.87 95.60,208.70 C95.93,212.53 96.47,218.22 97.20,223.00 C97.93,227.78 98.72,233.10 100.00,237.40 C101.28,241.70 102.88,245.45 104.90,248.80 C106.92,252.15 109.47,255.10 112.10,257.50 C114.73,259.90 118.10,261.90 120.70,263.20 C123.30,264.50 126.53,264.95 127.70,265.30" fill="none" stroke="#000" stroke-width="3.2" stroke-linejoin="round" stroke-linecap="round" /><path d="M127.70,265.30 C127.78,263.75 127.93,259.22 128.20,256.00 C128.47,252.78 128.83,249.17 129.30,246.00 C129.77,242.83 130.38,239.67 131.00,237.00 C131.62,234.33 132.27,232.60 133.00,230.00 C133.73,227.40 134.48,224.15 135.40,221.40 C136.32,218.65 137.32,216.15 138.50,213.50 C139.68,210.85 141.17,208.03 142.50,205.50 C143.83,202.97 145.17,200.43 146.50,198.30 C147.83,196.17 149.17,194.28 150.50,192.70 C151.83,191.12 153.20,189.98 154.50,188.80 C155.80,187.62 157.28,186.43 158.30,185.60 C159.32,184.77 160.22,184.10 160.60,183.80" fill="none" stroke="#000" stroke-width="3.2" stroke-linejoin="round" stroke-linecap="round" /><path d="M160.60,183.80 C160.65,184.83 160.78,187.77 160.90,190.00 C161.02,192.23 161.07,193.12 161.30,197.20 C161.53,201.28 161.65,209.23 162.30,214.50 C162.95,219.77 164.00,224.50 165.20,228.80 C166.40,233.10 167.83,236.95 169.50,240.30 C171.17,243.65 173.05,246.42 175.20,248.90 C177.35,251.38 180.00,253.52 182.40,255.20 C184.80,256.88 186.97,257.78 189.60,259.00 C192.23,260.22 195.63,261.70 198.20,262.50 C200.77,263.30 202.65,263.45 205.00,263.80 C207.35,264.15 211.08,264.47 212.30,264.60" fill="none" stroke="#000" stroke-width="3.2" stroke-linejoin="round" stroke-linecap="round" /><rect x="58.4" y="278.6" width="4.6" height="2.8" fill="#000"/><path d="M161.30,197.20 C161.47,200.08 161.65,209.23 162.30,214.50 C162.95,219.77 164.00,224.50 165.20,228.80 C166.40,233.10 167.83,236.95 169.50,240.30 C171.17,243.65 173.05,246.42 175.20,248.90 C177.35,251.38 180.00,253.52 182.40,255.20 C184.80,256.88 186.97,257.78 189.60,259.00 C192.23,260.22 195.63,261.70 198.20,262.50 C200.77,263.30 202.65,263.45 205.00,263.80 C207.35,264.15 211.08,264.47 212.30,264.60" fill="none" stroke="#c0201a" stroke-width="1.2" stroke-linejoin="round" stroke-linecap="round" /><line x1="100.0" y1="192.0" x2="113.3" y2="192.0" stroke="#000" stroke-width="1.05"/><path d="M97.2,192.0 L101.2,190.1 L100.2,192.0 L101.2,193.9 Z" fill="#000"/><text x="115.9" y="197.8" font-family='"Liberation Serif", serif' font-size="12" font-weight="bold" fill="#000" stroke="#000" text-anchor="start" textLength="24.9" lengthAdjust="spacingAndGlyphs" >OFF</text><line x1="67.7" y1="279.5" x2="81.7" y2="279.5" stroke="#000" stroke-width="1.05"/><path d="M64.9,279.5 L68.9,277.6 L67.9,279.5 L68.9,281.4 Z" fill="#000"/><text x="84.6" y="284.4" font-family='"Liberation Serif", serif' font-size="12" font-weight="bold" fill="#000" stroke="#000" text-anchor="start" textLength="17.2" lengthAdjust="spacingAndGlyphs" >ON</text><text transform="translate(231.6,167.4) scale(1,1.1)" x="0" y="0" font-family='"Liberation Serif", serif' font-size="14" font-weight="bold" fill="#000" stroke="#000">E</text><rect x="288.3" y="163.0" width="166.0" height="120.89999999999998" fill="none" stroke="#222" stroke-width="1.1"/><line x1="301.1" y1="283.9" x2="301.1" y2="287.7" stroke="#222" stroke-width="1.1"/><line x1="326.6" y1="283.9" x2="326.6" y2="287.7" stroke="#222" stroke-width="1.1"/><line x1="352.1" y1="283.9" x2="352.1" y2="287.7" stroke="#222" stroke-width="1.1"/><line x1="377.6" y1="283.9" x2="377.6" y2="287.7" stroke="#222" stroke-width="1.1"/><line x1="403.1" y1="283.9" x2="403.1" y2="287.7" stroke="#222" stroke-width="1.1"/><line x1="428.6" y1="283.9" x2="428.6" y2="287.7" stroke="#222" stroke-width="1.1"/><line x1="454.1" y1="283.9" x2="454.1" y2="287.7" stroke="#222" stroke-width="1.1"/><line x1="288.35" y1="283.9" x2="288.35" y2="286.09999999999997" stroke="#222" stroke-width="1.1"/><line x1="313.85" y1="283.9" x2="313.85" y2="286.09999999999997" stroke="#222" stroke-width="1.1"/><line x1="339.35" y1="283.9" x2="339.35" y2="286.09999999999997" stroke="#222" stroke-width="1.1"/><line x1="364.85" y1="283.9" x2="364.85" y2="286.09999999999997" stroke="#222" stroke-width="1.1"/><line x1="390.35" y1="283.9" x2="390.35" y2="286.09999999999997" stroke="#222" stroke-width="1.1"/><line x1="415.85" y1="283.9" x2="415.85" y2="286.09999999999997" stroke="#222" stroke-width="1.1"/><line x1="441.35" y1="283.9" x2="441.35" y2="286.09999999999997" stroke="#222" stroke-width="1.1"/><line x1="284.5" y1="254.30000000000007" x2="288.3" y2="254.30000000000007" stroke="#222" stroke-width="1.1"/><line x1="284.5" y1="213.90000000000003" x2="288.3" y2="213.90000000000003" stroke="#222" stroke-width="1.1"/><line x1="284.5" y1="173.5" x2="288.3" y2="173.5" stroke="#222" stroke-width="1.1"/><line x1="286.1" y1="274.5" x2="288.3" y2="274.5" stroke="#222" stroke-width="1.1"/><line x1="286.1" y1="234.09999999999997" x2="288.3" y2="234.09999999999997" stroke="#222" stroke-width="1.1"/><line x1="286.1" y1="193.7000000000001" x2="288.3" y2="193.7000000000001" stroke="#222" stroke-width="1.1"/><text x="301.1" y="298.3" font-family='"Liberation Serif", serif' font-size="9.6" font-weight="bold" fill="#000" stroke="#000" text-anchor="middle" >0</text><text x="326.6" y="298.3" font-family='"Liberation Serif", serif' font-size="9.6" font-weight="bold" fill="#000" stroke="#000" text-anchor="middle" >500</text><text x="352.1" y="298.3" font-family='"Liberation Serif", serif' font-size="9.6" font-weight="bold" fill="#000" stroke="#000" text-anchor="middle" >1000</text><text x="377.6" y="298.3" font-family='"Liberation Serif", serif' font-size="9.6" font-weight="bold" fill="#000" stroke="#000" text-anchor="middle" >1500</text><text x="403.1" y="298.3" font-family='"Liberation Serif", serif' font-size="9.6" font-weight="bold" fill="#000" stroke="#000" text-anchor="middle" >2000</text><text x="428.6" y="298.3" font-family='"Liberation Serif", serif' font-size="9.6" font-weight="bold" fill="#000" stroke="#000" text-anchor="middle" >2500</text><text x="454.1" y="298.3" font-family='"Liberation Serif", serif' font-size="9.6" font-weight="bold" fill="#000" stroke="#000" text-anchor="middle" >3000</text><text x="282.4" y="258.3" font-family='"Liberation Serif", serif' font-size="9.8" font-weight="bold" stroke="#000" text-anchor="end">2.4x10<tspan dy="-5.3" font-size="6.08">-3</tspan></text><text x="282.4" y="217.9" font-family='"Liberation Serif", serif' font-size="9.8" font-weight="bold" stroke="#000" text-anchor="end">2.5x10<tspan dy="-5.3" font-size="6.08">-3</tspan></text><text x="282.4" y="177.5" font-family='"Liberation Serif", serif' font-size="9.8" font-weight="bold" stroke="#000" text-anchor="end">2.6x10<tspan dy="-5.3" font-size="6.08">-3</tspan></text><text x="377.0" y="308.6" font-family='"Liberation Serif", serif' font-size="11.6" font-weight="bold" fill="#000" stroke="#000" text-anchor="middle" textLength="48.3" lengthAdjust="spacingAndGlyphs" >Time (sec)</text><text transform="translate(246.3,218.2) rotate(-90)" x="0" y="0" font-family='"Liberation Serif", serif' font-size="11.8" font-weight="bold" stroke="#000" text-anchor="middle" textLength="42.2" lengthAdjust="spacingAndGlyphs">I<tspan font-size="7.1" dy="2.5">L</tspan><tspan dy="-2.5">(t) (A)</tspan></text><text x="294.0" y="173.7" font-family='"Liberation Serif", serif' font-size="12" font-weight="bold" fill="#6a2aa8" stroke="#6a2aa8" text-anchor="start" textLength="22.5" lengthAdjust="spacingAndGlyphs" >12 h</text><text x="405.1" y="174.2" font-family='"Liberation Serif", serif' font-size="9.1" font-weight="bold" stroke="#000" style="stroke-width:0.14px" textLength="45.8" lengthAdjust="spacingAndGlyphs">τ = 86.4 sec</text><path d="M300.60,272.00 C301.33,272.05 303.18,272.13 305.00,272.30 C306.82,272.47 310.42,272.88 311.50,273.00" fill="none" stroke="#000" stroke-width="3.2" stroke-linejoin="round" stroke-linecap="round" /><path d="M311.50,273.00 C311.60,270.00 311.90,260.83 312.10,255.00 C312.30,249.17 312.47,242.83 312.70,238.00 C312.93,233.17 313.08,230.22 313.50,226.00 C313.92,221.78 314.55,216.95 315.20,212.70 C315.85,208.45 316.72,204.00 317.40,200.50 C318.08,197.00 318.60,194.20 319.30,191.70 C320.00,189.20 320.88,187.15 321.60,185.50 C322.32,183.85 322.73,182.47 323.60,181.80 C324.47,181.13 326.27,181.55 326.80,181.50" fill="none" stroke="#000" stroke-width="3.2" stroke-linejoin="round" stroke-linecap="round" /><path d="M326.80,181.50 C326.80,182.77 326.72,186.02 326.80,189.10 C326.88,192.18 327.05,195.53 327.30,200.00 C327.55,204.47 327.82,210.77 328.30,215.90 C328.78,221.03 329.55,226.28 330.20,230.80 C330.85,235.32 331.48,239.35 332.20,243.00 C332.92,246.65 333.62,249.75 334.50,252.70 C335.38,255.65 336.32,258.32 337.50,260.70 C338.68,263.08 340.92,265.95 341.60,267.00" fill="none" stroke="#000" stroke-width="3.2" stroke-linejoin="round" stroke-linecap="round" /><path d="M341.60,267.00 C341.75,265.17 342.20,260.00 342.50,256.00 C342.80,252.00 343.07,247.33 343.40,243.00 C343.73,238.67 344.10,234.67 344.50,230.00 C344.90,225.33 345.32,219.90 345.80,215.00 C346.28,210.10 346.70,204.85 347.40,200.60 C348.10,196.35 349.03,192.33 350.00,189.50 C350.97,186.67 352.03,185.18 353.20,183.60 C354.37,182.02 356.37,180.60 357.00,180.00" fill="none" stroke="#000" stroke-width="3.2" stroke-linejoin="round" stroke-linecap="round" /><path d="M357.00,180.00 C357.13,183.12 357.43,192.53 357.80,198.70 C358.17,204.87 358.78,212.12 359.20,217.00 C359.62,221.88 359.87,224.62 360.30,228.00 C360.73,231.38 360.92,233.22 361.80,237.30 C362.68,241.38 364.23,248.17 365.60,252.50 C366.97,256.83 368.80,260.95 370.00,263.30 C371.20,265.65 372.33,266.05 372.80,266.60" fill="none" stroke="#000" stroke-width="3.2" stroke-linejoin="round" stroke-linecap="round" /><path d="M372.80,266.60 C372.92,263.83 373.23,255.27 373.50,250.00 C373.77,244.73 374.08,240.00 374.40,235.00 C374.72,230.00 374.97,225.00 375.40,220.00 C375.83,215.00 376.25,209.67 377.00,205.00 C377.75,200.33 378.93,195.20 379.90,192.00 C380.87,188.80 381.52,187.63 382.80,185.80 C384.08,183.97 386.80,181.80 387.60,181.00" fill="none" stroke="#000" stroke-width="3.2" stroke-linejoin="round" stroke-linecap="round" /><path d="M387.60,181.00 C387.73,183.95 388.08,193.03 388.40,198.70 C388.72,204.37 389.13,210.28 389.50,215.00 C389.87,219.72 390.13,221.88 390.60,227.00 C391.07,232.12 391.53,240.50 392.30,245.70 C393.07,250.90 394.03,254.92 395.20,258.20 C396.37,261.48 398.03,263.85 399.30,265.40 C400.57,266.95 402.22,267.15 402.80,267.50" fill="none" stroke="#000" stroke-width="3.2" stroke-linejoin="round" stroke-linecap="round" /><path d="M402.80,267.50 C402.93,265.58 403.27,260.92 403.60,256.00 C403.93,251.08 404.37,243.67 404.80,238.00 C405.23,232.33 405.70,227.60 406.20,222.00 C406.70,216.40 407.15,209.27 407.80,204.40 C408.45,199.53 409.17,196.03 410.10,192.80 C411.03,189.57 412.10,186.83 413.40,185.00 C414.70,183.17 417.15,182.33 417.90,181.80" fill="none" stroke="#000" stroke-width="3.2" stroke-linejoin="round" stroke-linecap="round" /><path d="M417.90,181.80 C418.00,183.17 418.28,186.40 418.50,190.00 C418.72,193.60 418.85,198.07 419.20,203.40 C419.55,208.73 420.02,215.80 420.60,222.00 C421.18,228.20 421.87,235.70 422.70,240.60 C423.53,245.50 424.50,248.13 425.60,251.40 C426.70,254.67 427.92,257.52 429.30,260.20 C430.68,262.88 433.13,266.28 433.90,267.50" fill="none" stroke="#000" stroke-width="3.2" stroke-linejoin="round" stroke-linecap="round" /><path d="M417.90,181.80 C418.00,183.17 418.28,186.40 418.50,190.00 C418.72,193.60 418.85,198.07 419.20,203.40 C419.55,208.73 420.02,215.80 420.60,222.00 C421.18,228.20 421.87,235.70 422.70,240.60 C423.53,245.50 424.50,248.13 425.60,251.40 C426.70,254.67 427.92,257.52 429.30,260.20 C430.68,262.88 433.13,266.28 433.90,267.50" fill="none" stroke="#c0201a" stroke-width="1.2" stroke-linejoin="round" stroke-linecap="round" /><line x1="313.4" y1="182.7" x2="323.6" y2="181.5" stroke="#222" stroke-width="1.0"/><text x="289.6" y="187.2" font-family='"Liberation Serif", serif' font-size="12" font-weight="bold" fill="#000" stroke="#000" text-anchor="start" textLength="23.6" lengthAdjust="spacingAndGlyphs" >OFF</text><line x1="318.0" y1="272.5" x2="332.7" y2="272.5" stroke="#000" stroke-width="1.05"/><path d="M315.2,272.5 L319.2,270.6 L318.2,272.5 L319.2,274.4 Z" fill="#000"/><text x="335.1" y="277.6" font-family='"Liberation Serif", serif' font-size="12" font-weight="bold" fill="#000" stroke="#000" text-anchor="start" textLength="18.1" lengthAdjust="spacingAndGlyphs" >ON</text><text transform="translate(463.3,167.2) scale(1,1.1)" x="0" y="0" font-family='"Liberation Serif", serif' font-size="14" font-weight="bold" fill="#000" stroke="#000">F</text><rect x="509" y="172.3" width="33" height="112.1" fill="#008080"/><rect x="550" y="177.2" width="33" height="107.2" fill="#00009c"/><rect x="591.2" y="205.9" width="32.8" height="78.5" fill="#ff8000"/><rect x="632.5" y="263.5" width="32.5" height="20.9" fill="#8000ff"/><rect x="504.5" y="163.5" width="164.79999999999995" height="120.89999999999998" fill="none" stroke="#222" stroke-width="1.1"/><line x1="501.3" y1="284.4" x2="504.5" y2="284.4" stroke="#222" stroke-width="1.1"/><line x1="501.3" y1="236.89999999999998" x2="504.5" y2="236.89999999999998" stroke="#222" stroke-width="1.1"/><line x1="501.3" y1="189.39999999999998" x2="504.5" y2="189.39999999999998" stroke="#222" stroke-width="1.1"/><line x1="502.5" y1="260.65" x2="504.5" y2="260.65" stroke="#222" stroke-width="1.1"/><line x1="502.5" y1="213.14999999999998" x2="504.5" y2="213.14999999999998" stroke="#222" stroke-width="1.1"/><line x1="502.5" y1="165.64999999999998" x2="504.5" y2="165.64999999999998" stroke="#222" stroke-width="1.1"/><text x="499.0" y="287.8" font-family='"Liberation Serif", serif' font-size="9.6" font-weight="bold" fill="#000" stroke="#000" text-anchor="end" >0</text><text x="499.0" y="240.3" font-family='"Liberation Serif", serif' font-size="9.6" font-weight="bold" fill="#000" stroke="#000" text-anchor="end" >20</text><text x="499.0" y="192.8" font-family='"Liberation Serif", serif' font-size="9.6" font-weight="bold" fill="#000" stroke="#000" text-anchor="end" >40</text><text transform="translate(486.1,228.6) rotate(-90)" x="0" y="0" font-family='"Liberation Serif", serif' font-size="11.6" font-weight="bold" fill="#000" stroke="#000" text-anchor="middle" textLength="102.5" lengthAdjust="spacingAndGlyphs">Photosensitivity (%)</text><text x="587.3" y="297.8" font-family='"Liberation Serif", serif' font-size="11.6" font-weight="bold" fill="#000" stroke="#000" text-anchor="middle" textLength="192.4" lengthAdjust="spacingAndGlyphs" >Samples with different time of reduction</text><text transform="translate(528.6,228.2) rotate(-90)" x="0" y="0" font-family='"Liberation Serif", serif' font-size="13.3" font-weight="bold" fill="#f6f600" stroke="#f6f600" text-anchor="middle" textLength="64.6" lengthAdjust="spacingAndGlyphs">0 min (GO)</text><text transform="translate(570.3,228.0) rotate(-90)" x="0" y="0" font-family='"Liberation Serif", serif' font-size="13.3" font-weight="bold" fill="#f6f600" stroke="#f6f600" text-anchor="middle" textLength="38.3" lengthAdjust="spacingAndGlyphs">30 min</text><text transform="translate(613.2,245.4) rotate(-90)" x="0" y="0" font-family='"Liberation Serif", serif' font-size="13.3" font-weight="bold" fill="#f6f600" stroke="#f6f600" text-anchor="middle" textLength="44.8" lengthAdjust="spacingAndGlyphs">120 min</text><text transform="translate(653.6,227.9) rotate(-90)" x="0" y="0" font-family='"Liberation Serif", serif' font-size="13.3" font-weight="bold" fill="#7a2be0" stroke="#7a2be0" text-anchor="middle" textLength="65.9" lengthAdjust="spacingAndGlyphs">12 h (RGO)</text>
</svg>
</body></html>
